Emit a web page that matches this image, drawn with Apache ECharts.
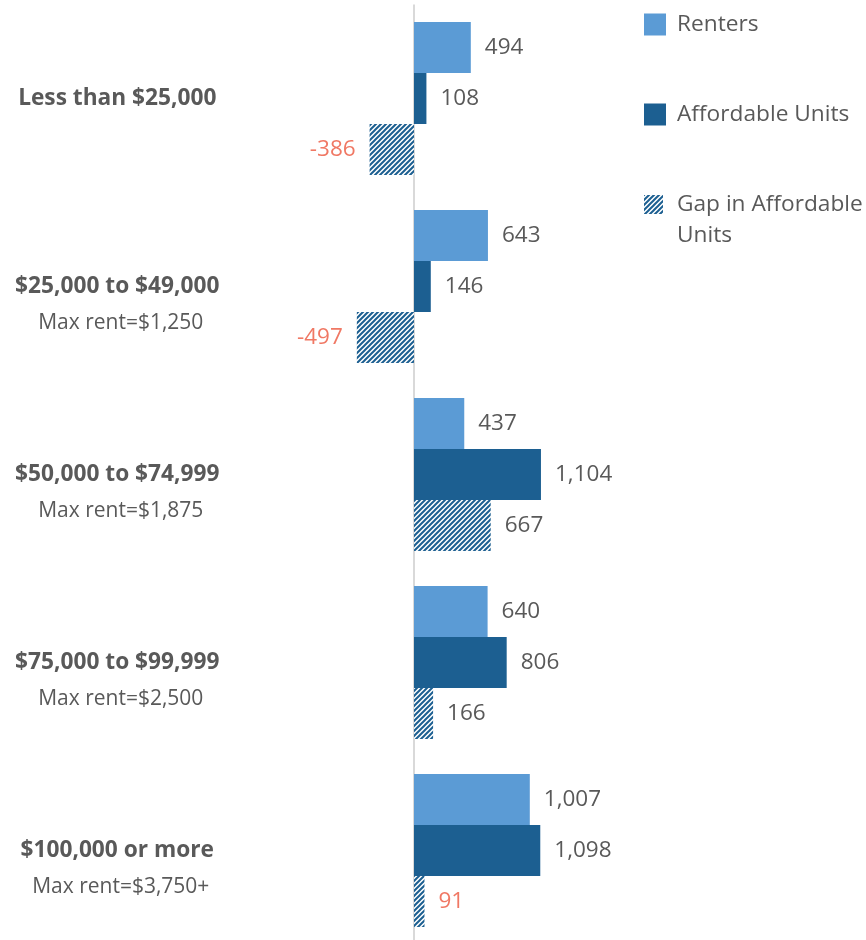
<!DOCTYPE html>
<html>
<head>
<meta charset="utf-8">
<script src="https://cdn.jsdelivr.net/npm/echarts@6/dist/echarts.min.js"></script>
<style>
html,body{margin:0;padding:0;background:#fff;}
#chart{width:866px;height:940px;}
</style>
</head>
<body>
<div id="chart"></div>
<script>
// ---- data ----
const categories = ['Less than $25,000', '$25,000 to $49,000', '$50,000 to $74,999', '$75,000 to $99,999', '$100,000 or more'];
const subtitles = ['', 'Max rent=$1,250', 'Max rent=$1,875', 'Max rent=$2,500', 'Max rent=$3,750+'];
const seriesNames = ['Renters', 'Affordable Units', 'Gap in Affordable Units'];
const renters = [494, 643, 437, 640, 1007];
const affordable = [108, 146, 1104, 806, 1098];
const gap = [-386, -497, 667, 166, 91];
const gapFlagged = [true, true, false, false, true];

// ---- styles ----
const GRAY = '#595959';
const RED = '#f07864';
const LIGHT = '#5b9bd5';
const DARK = '#1c5f91';
const FONT = '"Open Sans", sans-serif';

function makeHatch() {
  const s = 5;
  const c = document.createElement('canvas');
  c.width = s; c.height = s;
  const ctx = c.getContext('2d');
  ctx.fillStyle = '#ffffff';
  ctx.fillRect(0, 0, s, s);
  ctx.strokeStyle = DARK;
  ctx.lineWidth = 2;
  ctx.beginPath();
  ctx.moveTo(-1, s + 1); ctx.lineTo(s + 1, -1);
  ctx.moveTo(-1, 1); ctx.lineTo(1, -1);
  ctx.moveTo(s - 1, s + 1); ctx.lineTo(s + 1, s - 1);
  ctx.stroke();
  return c;
}
const hatch = { image: makeHatch(), repeat: 'repeat' };

const fmt = v => v.toLocaleString('en-US');
const labelBase = { show: true, fontFamily: FONT, fontSize: 22.5, color: GRAY, distance: 14 };

function barData(arr, colorFn) {
  return arr.map((v, i) => ({
    value: v,
    label: { position: v < 0 ? 'left' : 'right', color: colorFn(v, i) }
  }));
}

const chart = echarts.init(document.getElementById('chart'), null, { renderer: 'canvas' });
const legendText = { fontFamily: FONT, fontSize: 22.7, color: GRAY, padding: [0, 0, 0, 6] };

chart.setOption({
  animation: false,
  backgroundColor: '#ffffff',
  grid: { left: 224.25, width: 603.75, top: 4.5, height: 940, containLabel: false, outerBoundsMode: 'none' },
  xAxis: {
    type: 'value', min: -1650, max: 3600,
    axisLine: { show: false }, axisTick: { show: false },
    axisLabel: { show: false }, splitLine: { show: false }
  },
  yAxis: {
    type: 'category', inverse: true, data: categories,
    axisLine: { show: false }, axisTick: { show: false },
    axisLabel: {
      align: 'center', margin: 107,
      formatter: function (value, index) {
        const sub = subtitles[index];
        return sub ? '{e| }\n{b|' + value + '}\n{s|' + sub + '}' : '{b|' + value + '}';
      },
      rich: {
        b: { fontFamily: FONT, fontWeight: 'bold', fontSize: 22.7, color: GRAY, lineHeight: 30 },
        s: { fontFamily: FONT, fontSize: 21, color: GRAY, lineHeight: 44, padding: [0, 0, 0, 7] },
        e: { fontFamily: FONT, fontSize: 21, lineHeight: 44 }
      }
    }
  },
  legend: [
    { data: [seriesNames[0]], orient: 'vertical', left: 644, top: 13, padding: 0,
      itemWidth: 22, itemHeight: 22, icon: 'rect', textStyle: legendText, selectedMode: false },
    { data: [seriesNames[1]], orient: 'vertical', left: 644, top: 103, padding: 0,
      itemWidth: 22, itemHeight: 22, icon: 'rect', textStyle: legendText, selectedMode: false },
    { data: [seriesNames[2]], orient: 'vertical', left: 644, top: 158, padding: 0,
      itemWidth: 19, itemHeight: 19, icon: 'rect', selectedMode: false,
      formatter: () => '\nGap in Affordable\nUnits',
      textStyle: Object.assign({}, legendText, { lineHeight: 31, padding: [0, 0, 0, 9] }) }
  ],
  series: [
    {
      name: seriesNames[0], type: 'bar', barWidth: 51, barGap: '0%',
      itemStyle: { color: LIGHT },
      label: Object.assign({}, labelBase, { formatter: p => fmt(p.value) }),
      data: barData(renters, () => GRAY),
      markLine: {
        silent: true, symbol: 'none', label: { show: false },
        lineStyle: { color: '#d9d9d9', width: 2, type: 'solid' },
        data: [{ xAxis: 0 }], z: 1
      }
    },
    {
      name: seriesNames[1], type: 'bar', barWidth: 51, barGap: '0%',
      itemStyle: { color: DARK },
      label: Object.assign({}, labelBase, { formatter: p => fmt(p.value) }),
      data: barData(affordable, () => GRAY)
    },
    {
      name: seriesNames[2], type: 'bar', barWidth: 51, barGap: '0%',
      itemStyle: { color: hatch },
      label: Object.assign({}, labelBase, { formatter: p => fmt(p.value) }),
      data: barData(gap, (v, i) => (gapFlagged[i] ? RED : GRAY))
    }
  ]
});
</script>
</body>
</html>
